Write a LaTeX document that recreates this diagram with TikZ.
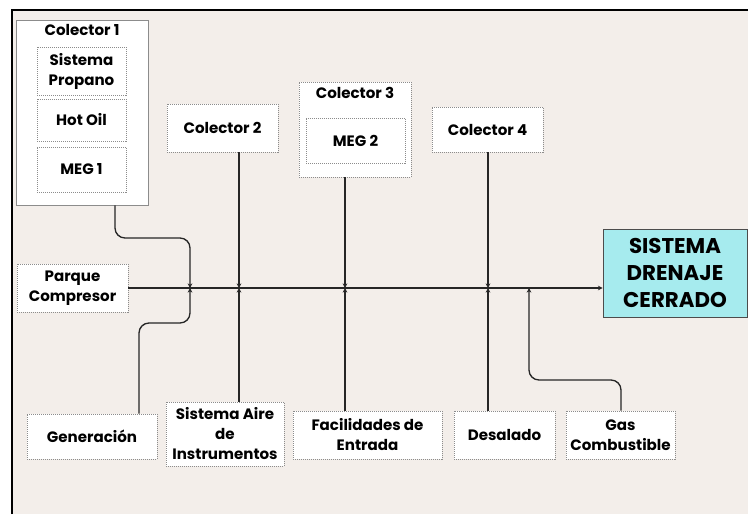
\documentclass[tikz,border=0pt]{standalone}
\usepackage{fontspec}
\setmainfont{Poppins}
\usetikzlibrary{arrows.meta}
\definecolor{fondo}{HTML}{F3EEEA}
\definecolor{cian}{HTML}{A6EBEE}
\newdimen\px \px=0.75pt
\tikzset{
	caja/.style={draw=gray!90, dash pattern=on 1pt off 0.5pt, line width=0.45pt, fill=white, inner sep=0pt, align=center, font=\fontsize{11.3}{15}\selectfont\bfseries},
	linea/.style={line width=1pt, draw=black!85},
	punta/.style={-{Stealth[length=3.5pt,width=3.5pt]}}
}
\begin{document}
\begin{tikzpicture}[x=0.75pt, y=-0.75pt]
			\useasboundingbox (0,0) rectangle (748,514);
			\fill[white] (0,0) rectangle (748,514);
			\fill[fondo] (12,10) rectangle (748,514);
			\draw[line width=1.4pt] (12,514) -- (12,10) -- (748,10);
			
			\begin{scope}[every node/.style={caja}]
				\node (c1)[solid, minimum width=132\px, minimum height=185\px] at (82,112.5) {};
				\node (c1t)[draw=none, fill=none] at (82,30) {Colector 1};
				\node (p)[minimum width=89\px, minimum height=48\px] at (81.5,71) {Sistema\\Propano};
				\node (h)[minimum width=89\px, minimum height=42\px] at (81.5,120) {Hot Oil};
				\node (m1)[minimum width=89\px, minimum height=45\px] at (81.5,169.5) {MEG 1};
				\node (c2)[minimum width=111\px, minimum height=48\px] at (222.5,128) {Colector 2};
				\node (c3)[minimum width=112\px, minimum height=95\px] at (355,129.5) {};
				\node (c3t)[draw=none, fill=none] at (355,93) {Colector 3};
				\node (m2)[minimum width=99\px, minimum height=45\px] at (355.5,140.5) {MEG 2};
				\node (c4)[minimum width=111\px, minimum height=45\px] at (487.5,129.5) {Colector 4};
				\node (pc)[minimum width=111\px, minimum height=48\px] at (72.5,288) {Parque\\Compresor};
				\node (g)[minimum width=130\px, minimum height=45\px] at (92,436.5) {Generación};
				\node (a)[minimum width=118\px, minimum height=64\px] at (225,434) {Sistema Aire\\de\\Instrumentos};
				\node (f)[minimum width=149\px, minimum height=48\px] at (367.5,435) {Facilidades de\\Entrada};
				\node (d)[minimum width=101\px, minimum height=48\px] at (504.5,435) {Desalado};
				\node (gc)[minimum width=109\px, minimum height=48\px] at (620.5,435) {Gas\\Combustible};
				\node (sdc)[solid, draw=black!70, line width=0.6pt, fill=cian, minimum width=144\px, minimum height=88\px, font=\fontsize{16}{20}\selectfont\bfseries] at (675,273) {SISTEMA\\DRENAJE\\CERRADO};
			\end{scope}
			
			% puntos de union sobre la linea principal
			\coordinate (j1) at (190,288);
			\coordinate (j2) at (239,288);
			\coordinate (j3) at (345,288);
			\coordinate (j4) at (488,288);
			\coordinate (j5) at (529,288);
			
			\begin{scope}[every path/.style={linea}]
				\draw[punta] (pc.east) -- (pc.east -| sdc.west);
				\draw[punta, rounded corners=7.5pt] (c1.south -| 115,0) -- (115,238) -- (190,238) -- (j1);
				\draw[punta, rounded corners=7.5pt] (g.north -| 139,0) -- (139,323) -- (190,323) -- (j1);
				\draw[punta] (c2.south -| j2) -- (j2);
				\draw[punta] (a.north -| j2) -- (j2);
				\draw[punta] (c3.south -| j3) -- (j3);
				\draw[punta] (f.north -| j3) -- (j3);
				\draw[punta] (c4.south -| j4) -- (j4);
				\draw[punta] (d.north -| j4) -- (j4);
				\draw[punta, rounded corners=7.5pt] (gc.north -| 621,0) -- (621,380) -- (529,380) -- (j5);
			\end{scope}
		\end{tikzpicture}
\end{document}
